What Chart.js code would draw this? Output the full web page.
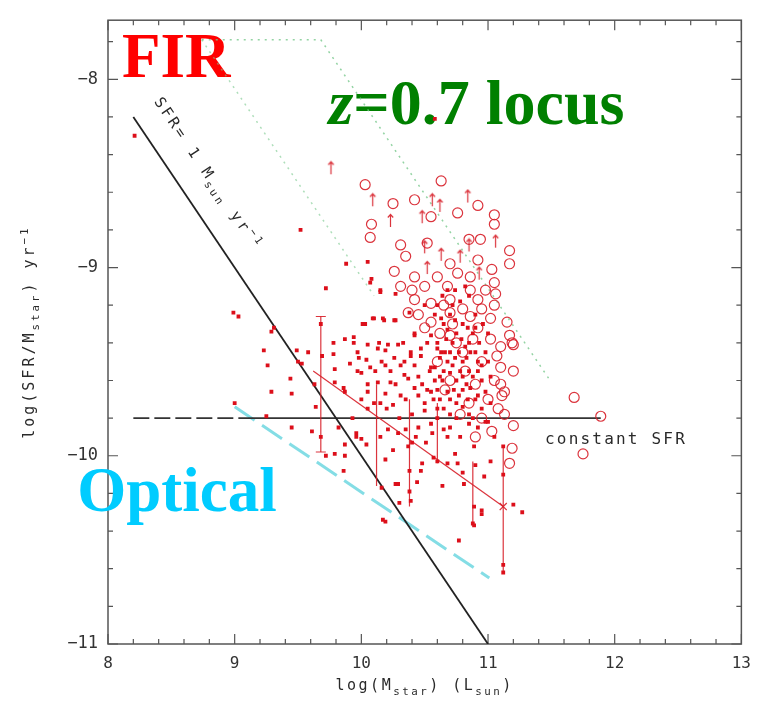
<!DOCTYPE html>
<html>
<head>
<meta charset="utf-8">
<script src="https://cdn.jsdelivr.net/npm/chart.js@4.4.1/dist/chart.umd.min.js"></script>
<style>
  html, body { margin: 0; padding: 0; background: #fff; }
  #wrap { position: relative; width: 761px; height: 704px; }
</style>
</head>
<body>
<div id="wrap"><canvas id="myChart"></canvas></div>
<script>
// axes
const xRange = [8, 13];
const yRange = [-11, -7.686];
const xTicks = [8, 9, 10, 11, 12, 13];
const yTicks = [-11, -10, -9, -8];
const minorStep = 0.2;

// FIR sample, filled symbols: [log Mstar, log SFR/Mstar]
const firFilled = [
  [8.21,-8.30],[9.52,-8.80],[10.58,-8.21],[9.88,-8.98],[10.05,-8.97],[10.08,-9.06],[9.72,-9.11],[10.15,-9.13],
  [8.99,-9.24],[9.03,-9.26],[9.31,-9.32],[9.29,-9.34],[9.23,-9.44],[9.49,-9.44],[9.26,-9.52],[9.44,-9.59],
  [9.29,-9.66],[9.45,-9.67],[9.53,-9.51],[9.58,-9.45],[9.50,-9.50],[9.68,-9.30],[9.69,-9.47],[9.78,-9.40],
  [9.78,-9.46],[9.79,-9.54],[9.87,-9.38],[9.94,-9.40],[9.86,-9.64],[9.63,-9.62],[10.03,-9.30],[10.09,-9.27],
  [10.17,-9.27],[10.26,-9.28],[10.42,-9.36],[9.97,-9.45],[10.04,-9.49],[10.13,-9.43],[10.21,-9.41],[10.29,-9.41],
  [9.91,-9.51],[9.97,-9.55],[10.11,-9.55],[10.19,-9.52],[10.26,-9.48],[10.34,-9.50],[10.39,-9.45],[10.47,-9.43],
  [10.05,-9.62],[10.23,-9.61],[10.34,-9.57],[9.79,-9.61],[9.87,-9.66],[10.42,-9.64],[10.55,-9.53],[10.52,-9.40],
  [10.63,-9.45],[9.00,-9.72],[9.25,-9.79],[9.45,-9.85],[9.61,-9.87],[9.64,-9.74],[9.68,-9.90],[9.72,-10.00],
  [9.79,-9.99],[9.87,-10.00],[9.82,-9.85],[9.87,-9.94],[9.86,-10.08],[9.96,-9.90],[9.93,-9.80],
  [10.37,-9.95],[10.40,-9.93],[10.15,-9.90],[10.19,-10.02],[10.27,-10.15],[10.38,-10.08],[10.44,-10.14],[10.38,-10.19],
  [10.39,-10.24],[10.30,-10.25],[10.17,-10.34],[10.16,-10.17],[10.64,-10.16],[10.60,-10.03],[10.57,-10.01],[10.68,-10.04],
  [10.76,-10.04],[10.81,-10.15],[10.80,-10.09],[10.90,-10.05],[10.97,-10.11],[10.89,-10.27],[10.95,-10.31],[10.88,-10.36],
  [10.77,-10.45],[10.47,-10.08],[10.48,-10.04],[10.25,-9.97],[10.51,-9.93],[10.56,-9.88],[10.68,-9.90],[10.74,-9.99],
  [10.89,-9.95],[11.02,-10.03],[10.00,-9.91],[9.96,-9.88],[10.04,-9.94],[10.21,-9.86],[10.29,-9.88],[10.43,-9.90],
  [11.27,-10.30],[11.20,-10.26],[11.12,-9.95],[11.12,-10.10],[11.12,-10.58],[11.12,-10.62],[10.95,-10.29],[10.89,-10.37],
  [10.29,-10.15],[10.19,-10.35],
  [10.15,-9.12],[10.07,-9.08],[10.27,-9.14],[10.38,-9.24],[10.01,-9.30],[10.10,-9.27],[10.18,-9.28],[10.27,-9.28],
  [10.42,-9.35],[9.94,-9.37],[10.05,-9.41],[10.14,-9.40],[10.19,-9.44],[10.33,-9.40],[10.39,-9.47],[10.47,-9.47],
  [9.98,-9.48],[10.07,-9.53],[10.16,-9.50],[10.23,-9.55],[10.31,-9.52],[10.42,-9.52],[10.54,-9.55],[10.00,-9.56],
  [10.13,-9.61],[10.27,-9.62],[10.37,-9.59],[10.48,-9.62],[10.05,-9.66],[10.19,-9.67],[10.31,-9.68],[10.45,-9.68],
  [10.55,-9.66],[10.60,-9.20],[10.65,-9.30],[10.70,-9.25],[10.75,-9.35],[10.80,-9.30],[10.85,-9.40],[10.60,-9.40],
  [10.70,-9.45],[10.80,-9.50],[10.90,-9.45],[10.65,-9.55],[10.75,-9.60],[10.85,-9.55],[10.95,-9.60],[10.70,-9.70],
  [10.80,-9.65],[10.90,-9.70],[10.60,-9.65],[10.65,-9.75],[10.75,-9.80],[10.85,-9.78],[10.95,-9.75],[11.00,-9.50],
  [11.00,-9.35],[10.90,-9.25],[10.78,-9.18],[10.68,-9.12],[10.85,-9.15],[10.72,-9.52],[10.62,-9.48],[10.58,-9.60],
  [10.82,-9.42],[10.92,-9.85],[10.70,-9.85],[10.60,-9.80],[10.50,-9.76],[10.40,-9.78],[10.30,-9.80],[10.20,-9.75],
  [10.10,-9.72],[10.00,-9.70],[10.05,-9.75],[10.15,-9.72],[10.25,-9.73],[10.35,-9.70],[10.50,-9.72],[10.55,-9.83],
  [10.45,-9.85],[10.35,-9.86],[10.65,-9.86],[10.78,-9.90],[10.85,-9.83],[11.00,-9.82],[11.05,-9.90],
  [10.67,-9.38],[10.72,-9.40],[10.77,-9.45],[10.83,-9.48],[10.68,-9.50],[10.78,-9.55],[10.73,-9.65],[10.83,-9.62],
  [10.88,-9.58],[10.62,-9.58],[10.57,-9.70],[10.75,-9.72],[10.88,-9.35],[10.93,-9.40],[10.72,-9.20],[10.95,-9.52],
  [10.98,-9.66],
  [10.58,-9.25],[10.63,-9.27],[10.68,-9.33],[10.74,-9.28],[10.79,-9.38],[10.84,-9.32],[10.90,-9.32],[10.96,-9.30],
  [10.60,-9.43],[10.66,-9.45],[10.74,-9.48],[10.86,-9.45],[10.92,-9.50],[10.98,-9.45],[10.58,-9.53],[10.64,-9.60],
  [10.70,-9.56],[10.80,-9.58],[10.86,-9.64],[10.92,-9.55],[11.02,-9.58],[10.62,-9.70],[10.68,-9.66],[10.77,-9.68],
  [10.84,-9.70],[10.92,-9.68],[11.02,-9.72],[10.60,-9.75],[10.70,-9.78],[10.80,-9.74],[10.88,-9.80],[10.98,-9.82],
  [10.64,-9.15],[10.74,-9.12],[10.82,-9.10],[10.50,-9.20],[10.55,-9.36],[10.45,-9.58],[10.52,-9.65]
];

// FIR sample, open symbols
const firOpen = [
  [10.03,-8.56],[10.63,-8.54],[10.25,-8.66],[10.42,-8.64],[10.55,-8.73],[10.76,-8.71],[10.92,-8.67],[11.05,-8.72],
  [11.05,-8.77],[10.08,-8.77],[10.07,-8.84],[10.31,-8.88],[10.52,-8.87],[10.85,-8.85],[10.94,-8.85],[11.17,-8.91],
  [11.17,-8.98],[10.35,-8.94],[10.26,-9.02],[10.42,-9.05],[10.31,-9.10],[10.50,-9.10],[10.70,-8.98],[10.92,-8.96],
  [10.76,-9.03],[11.03,-9.01],[11.05,-9.08],[11.06,-9.14],[10.86,-9.05],[10.86,-9.12],[10.68,-9.10],[10.42,-9.17],
  [10.55,-9.19],[10.70,-9.17],[10.92,-9.17],[11.05,-9.20],[10.37,-9.24],[10.55,-9.29],[10.70,-9.24],[10.86,-9.26],
  [11.02,-9.27],[11.15,-9.29],[11.17,-9.36],[11.20,-9.41],[10.70,-9.36],[10.92,-9.32],[11.02,-9.38],[11.07,-9.47],
  [11.20,-9.55],[11.13,-9.66],[11.10,-9.53],[11.19,-9.40],[11.10,-9.62],
  [10.62,-9.35],[10.75,-9.40],[10.88,-9.38],[10.95,-9.50],[10.82,-9.55],[10.70,-9.60],[10.90,-9.62],[11.00,-9.70],
  [10.85,-9.72],[10.78,-9.78],[10.95,-9.80],[11.05,-9.60],[11.10,-9.42],[10.60,-9.50],[10.72,-9.30],[10.65,-9.20],
  [10.80,-9.22],[10.95,-9.22],[10.60,-9.05],[10.45,-9.25],[10.50,-9.32],[10.40,-9.12],[10.90,-9.90],[11.03,-9.87],
  [11.68,-9.69],[11.89,-9.79],[11.75,-9.99],[11.19,-9.96],[11.17,-10.04],[11.20,-9.84],[11.13,-9.78],[11.11,-9.68],
  [10.98,-9.12],[10.80,-9.45],[10.66,-9.65],[11.08,-9.75]
];

// upper-limit arrows
const firLimits = [
  [9.76,-8.47],[10.09,-8.64],[10.23,-8.75],[10.48,-8.73],[10.56,-8.64],[10.62,-8.67],[10.84,-8.62],
  [11.06,-8.86],[10.63,-8.93],[10.50,-8.89],[10.93,-9.03],[10.78,-8.94],[10.52,-9.00],[10.85,-8.88]
];

// error bars: [x, low, high]
const errBars = [
  [9.68,-9.98,-9.26],[10.12,-10.16,-9.62],[10.38,-10.27,-9.70],
  [10.60,-10.04,-9.72],[10.88,-10.36,-10.03],[11.12,-10.62,-9.95]
];

// reference lines
const sfrOneLine = [[8.2,-8.2],[11,-11]];
const constSfrLine = [[8.2,-9.8],[9.05,-9.8],[11.89,-9.8]];
const opticalLine = [[9.0,-9.74],[11.01,-10.65]];
const locusOuter = [[8.74,-7.79],[9.68,-7.79],[11.5,-9.61]];
const locusInner = [[8.74,-7.79],[10.1,-9.15]];
const redTrack = [[9.62,-9.55],[11.12,-10.27]];
const crossMarks = [[11.12,-10.27]];

// label anchors (data coords)
const labelFIR = [8.11, -7.99];
const labelLocus = [9.74, -8.236];
const labelOptical = [7.757, -10.293];
const labelConst = [11.45, -9.94];
const labelSfrOne = [8.79, -8.50];

const pts = arr => arr.map(([x, y]) => ({x, y}));
const red = 'rgba(215,30,40,0.9)';
const mono = '"DejaVu Sans Mono", monospace';
const serif = '"Liberation Serif", "Times New Roman", serif';

function makeArrow() {
  const c = document.createElement('canvas');
  c.width = 9; c.height = 15;
  const g = c.getContext('2d');
  g.strokeStyle = red;
  g.lineWidth = 1.2;
  g.beginPath();
  g.moveTo(4.5, 14); g.lineTo(4.5, 1.5);
  g.moveTo(1.8, 4.5); g.lineTo(4.5, 1.5); g.lineTo(7.2, 4.5);
  g.stroke();
  return c;
}

function setRunFont(ctx, size, kind, sp) {
  ctx.font = (kind ? size * 0.72 : size) + 'px ' + mono;
  ctx.letterSpacing = sp + 'px';
}
function runsWidth(ctx, runs, size, sp) {
  let w = 0;
  runs.forEach(([t, k]) => { setRunFont(ctx, size, k, sp); w += ctx.measureText(t).width; });
  return w;
}
function drawRuns(ctx, runs, x, y, size, sp) {
  let cx = x;
  runs.forEach(([t, k]) => {
    setRunFont(ctx, size, k, sp);
    const dy = k === 1 ? size * 0.3 : k === 2 ? -size * 0.42 : 0;
    ctx.fillText(t, cx, y + dy);
    cx += ctx.measureText(t).width;
  });
}

const frame = {
  id: 'frame',
  beforeDatasetsDraw(chart) {
    const {ctx, chartArea: a, scales: {x, y}} = chart;
    ctx.save();
    ctx.strokeStyle = '#555';
    ctx.lineWidth = 1.5;
    ctx.strokeRect(a.left, a.top, a.right - a.left, a.bottom - a.top);
    ctx.lineWidth = 1.2;
    ctx.beginPath();
    for (let v = xRange[0]; v <= xRange[1] + 1e-6; v += minorStep) {
      const p = x.getPixelForValue(v);
      const L = Math.abs(v - Math.round(v)) < 1e-6 ? 10 : 5;
      ctx.moveTo(p, a.bottom); ctx.lineTo(p, a.bottom - L);
      ctx.moveTo(p, a.top); ctx.lineTo(p, a.top + L);
    }
    for (let v = yRange[0]; v <= yRange[1] + 1e-6; v += minorStep) {
      const p = y.getPixelForValue(v);
      const L = Math.abs(v - Math.round(v)) < 1e-6 ? 10 : 5;
      ctx.moveTo(a.left, p); ctx.lineTo(a.left + L, p);
      ctx.moveTo(a.right, p); ctx.lineTo(a.right - L, p);
    }
    ctx.stroke();

    // big coloured labels (behind the points)
    ctx.textBaseline = 'alphabetic';
    ctx.textAlign = 'left';
    ctx.fillStyle = '#ff0000';
    ctx.font = 'bold 63px ' + serif;
    ctx.fillText('FIR', x.getPixelForValue(labelFIR[0]), y.getPixelForValue(labelFIR[1]));

    ctx.fillStyle = '#008000';
    let lx = x.getPixelForValue(labelLocus[0]);
    const ly = y.getPixelForValue(labelLocus[1]);
    ctx.font = 'italic bold 64px ' + serif;
    ctx.fillText('z', lx, ly);
    lx += ctx.measureText('z').width;
    ctx.font = 'bold 64px ' + serif;
    ctx.fillText('=0.7 locus', lx, ly);

    ctx.fillStyle = '#00ccff';
    ctx.font = 'bold 63px ' + serif;
    ctx.fillText('Optical', x.getPixelForValue(labelOptical[0]), y.getPixelForValue(labelOptical[1]));
    ctx.restore();
  },
  afterDatasetsDraw(chart) {
    const {ctx, chartArea: a, scales: {x, y}} = chart;
    ctx.save();
    ctx.fillStyle = '#2a2a2a';
    ctx.textBaseline = 'alphabetic';
    ctx.textAlign = 'left';

    // constant SFR
    drawRuns(ctx, [['constant SFR', 0]], x.getPixelForValue(labelConst[0]), y.getPixelForValue(labelConst[1]), 16, 2.2);

    // SFR = 1 label along the line
    const ang = Math.atan2(
      y.getPixelForValue(sfrOneLine[1][1]) - y.getPixelForValue(sfrOneLine[0][1]),
      x.getPixelForValue(sfrOneLine[1][0]) - x.getPixelForValue(sfrOneLine[0][0]));
    const sRuns = [['SFR= 1 M', 0], ['sun', 1], [' yr', 0], ['−1', 2]];
    ctx.save();
    ctx.translate(x.getPixelForValue(labelSfrOne[0]), y.getPixelForValue(labelSfrOne[1]));
    ctx.rotate(ang);
    const sw = runsWidth(ctx, sRuns, 15, 3);
    drawRuns(ctx, sRuns, -sw / 2, 5, 15, 3);
    ctx.restore();

    // axis titles
    const xRuns = [['log(M', 0], ['star', 1], [') (L', 0], ['sun', 1], [')', 0]];
    const xw = runsWidth(ctx, xRuns, 15, 2.5);
    drawRuns(ctx, xRuns, (a.left + a.right) / 2 - xw / 2, 690, 15, 2.5);

    const yRuns = [['log(SFR/M', 0], ['star', 1], [') yr', 0], ['−1', 2]];
    ctx.save();
    ctx.translate(34, (a.top + a.bottom) / 2);
    ctx.rotate(-Math.PI / 2);
    const yw = runsWidth(ctx, yRuns, 15, 3);
    drawRuns(ctx, yRuns, -yw / 2, 0, 15, 3);
    ctx.restore();
    ctx.restore();
  }
};

const errData = errBars.flatMap(([x, lo, hi]) => [{x, y: lo}, {x, y: hi}, {x, y: null}]);

const ctx = document.getElementById('myChart');
new Chart(ctx, {
  type: 'scatter',
  data: {
    datasets: [
      {
        label: 'FIR filled',
        data: pts(firFilled),
        pointStyle: 'rect',
        pointRadius: 2.7,
        backgroundColor: '#dc0f1a',
        borderWidth: 0
      },
      {
        label: 'FIR open',
        data: pts(firOpen),
        pointStyle: 'circle',
        pointRadius: 5,
        backgroundColor: 'rgba(255,255,255,0)',
        borderColor: red,
        borderWidth: 1.2
      },
      {
        label: 'FIR limits',
        data: pts(firLimits),
        pointStyle: makeArrow(),
        pointRadius: 6
      },
      {
        label: 'crosses',
        data: pts(crossMarks),
        pointStyle: 'crossRot',
        pointRadius: 5,
        borderColor: red,
        borderWidth: 1.3
      },
      {
        label: 'error bars',
        data: errData,
        showLine: true,
        spanGaps: false,
        borderColor: red,
        borderWidth: 1.2,
        pointStyle: 'line',
        pointBorderColor: red,
        pointBorderWidth: 1.2,
        pointRadius: c => (c.dataIndex < 2 ? 5 : 0)
      },
      {
        label: 'track',
        data: pts(redTrack),
        showLine: true,
        borderColor: red,
        borderWidth: 1.2,
        pointRadius: 0
      },
      {
        label: 'SFR = 1',
        data: pts(sfrOneLine),
        showLine: true,
        borderColor: '#222',
        borderWidth: 1.8,
        pointRadius: 0
      },
      {
        label: 'constant SFR',
        data: pts(constSfrLine),
        showLine: true,
        borderColor: '#333',
        borderWidth: 1.6,
        pointRadius: 0,
        segment: { borderDash: c => (c.p0DataIndex === 0 ? [16, 5] : undefined) }
      },
      {
        label: 'optical',
        data: pts(opticalLine),
        showLine: true,
        borderColor: 'rgba(110,215,225,0.85)',
        borderWidth: 3,
        borderDash: [24, 9],
        pointRadius: 0
      },
      {
        label: 'locus outer',
        data: pts(locusOuter),
        showLine: true,
        borderColor: 'rgba(120,200,140,0.8)',
        borderWidth: 1.5,
        borderDash: [2, 5],
        pointRadius: 0
      },
      {
        label: 'locus inner',
        data: pts(locusInner),
        showLine: true,
        borderColor: 'rgba(120,200,140,0.6)',
        borderWidth: 1.5,
        borderDash: [2, 5],
        pointRadius: 0
      }
    ]
  },
  options: {
    responsive: true,
    maintainAspectRatio: false,
    animation: false,
    events: [],
    layout: { padding: { top: 10, right: 14, left: 0, bottom: 0 } },
    plugins: { legend: { display: false }, tooltip: { enabled: false } },
    scales: {
      x: {
        type: 'linear',
        min: xRange[0],
        max: xRange[1],
        grid: { display: false, drawTicks: false },
        border: { display: false },
        afterFit: s => { s.height = 60; },
        afterBuildTicks: s => { s.ticks = xTicks.map(v => ({value: v})); },
        ticks: {
          padding: 10,
          color: '#333',
          font: { family: mono, size: 16 },
          callback: v => String(v)
        }
      },
      y: {
        type: 'linear',
        min: yRange[0],
        max: yRange[1],
        grid: { display: false, drawTicks: false },
        border: { display: false },
        afterFit: s => { s.width = 108; },
        afterBuildTicks: s => { s.ticks = yTicks.map(v => ({value: v})); },
        ticks: {
          padding: 10,
          color: '#333',
          font: { family: mono, size: 17 },
          callback: v => '−' + Math.abs(v)
        }
      }
    }
  },
  plugins: [frame]
});
</script>
</body>
</html>
